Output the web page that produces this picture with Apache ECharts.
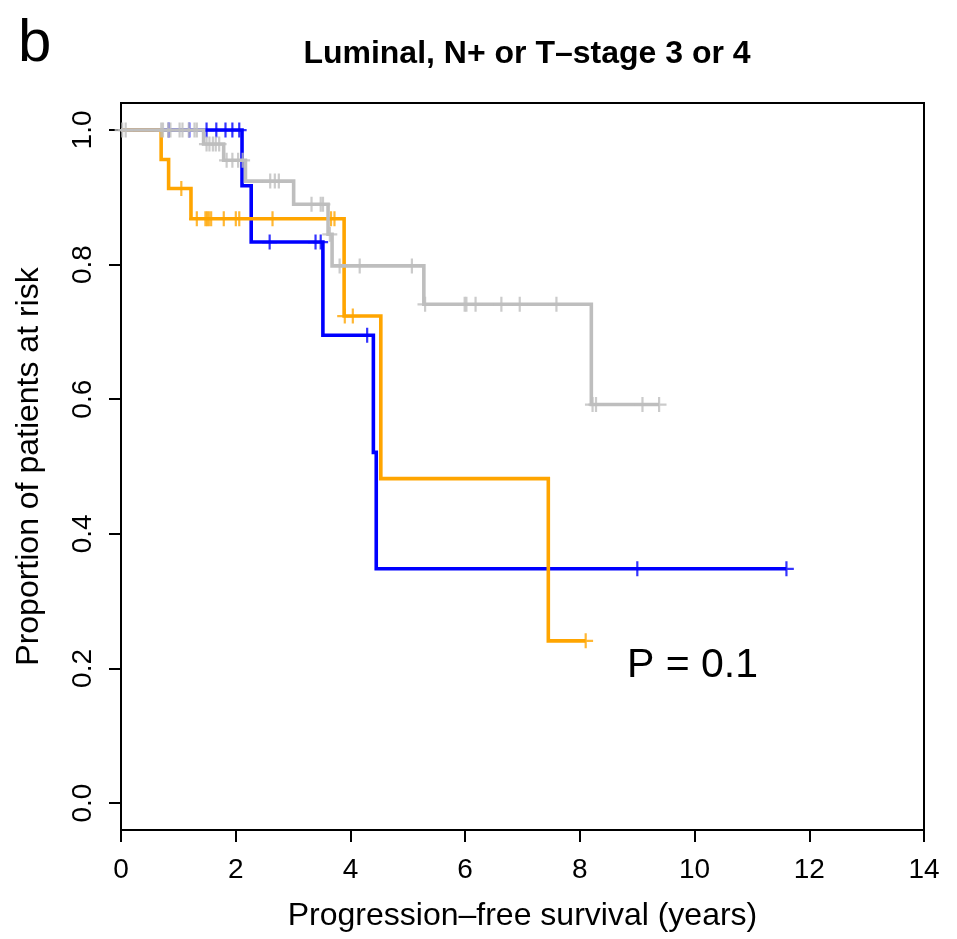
<!DOCTYPE html>
<html>
<head>
<meta charset="utf-8">
<script src="https://cdn.jsdelivr.net/npm/echarts@6/dist/echarts.min.js"></script>
<style>
html,body{margin:0;padding:0;background:#fff;}
#chart{width:957px;height:939px;}
</style>
</head>
<body>
<div id="chart"></div>
<script>
// ---- data ----
const xTicks = [0, 2, 4, 6, 8, 10, 12, 14];
const yTicks = [0, 0.2, 0.4, 0.6, 0.8, 1.0];

// orange group
const orangeTimes = [0.70, 0.83, 1.22, 3.89, 4.53, 7.45];
const orangeSurv  = [0.956, 0.913, 0.868, 0.7235, 0.482, 0.241];
const orangeCensor = [1.05, 1.32, 1.47, 1.50, 1.53, 1.57, 1.79, 2.00, 2.06, 2.64, 3.66, 3.72, 3.90, 4.04, 8.10];

// blue group
const blueTimes = [2.11, 2.27, 3.52, 4.40, 4.45];
const blueSurv  = [0.917, 0.8335, 0.695, 0.521, 0.348];
const blueCensor = [0.83, 1.19, 1.49, 1.66, 1.82, 1.94, 2.06, 2.59, 3.39, 3.48, 4.29, 9.00, 11.60];

// gray group
const grayTimes = [1.44, 1.79, 2.17, 3.01, 3.61, 3.68, 5.28, 8.20];
const graySurv  = [0.979, 0.955, 0.924, 0.8895, 0.845, 0.798, 0.741, 0.592];
const grayCensor = [0.02, 0.08, 0.70, 0.73, 0.82, 0.86, 1.02, 1.07, 1.18, 1.28, 1.32,
  1.49, 1.54, 1.60, 1.65, 1.71, 1.84, 1.94, 2.04, 2.12, 2.60, 2.68, 2.75,
  3.32, 3.48, 3.52, 3.64, 3.81, 4.16, 5.07, 5.30, 5.99, 6.02, 6.18, 6.63, 6.95, 7.59,
  8.22, 8.28, 9.09, 9.38];

const titleText = 'Luminal, N+ or T\u2013stage 3 or 4';
const xName = 'Progression\u2013free survival (years)';
const yName = 'Proportion of patients at risk';
const pText = 'P = 0.1';
const panelLetter = 'b';

// ---- helpers ----
function stepLine(times, surv, censor) {
  const pts = [[0, 1]];
  let prev = 1;
  for (let i = 0; i < times.length; i++) {
    pts.push([times[i], prev]);
    pts.push([times[i], surv[i]]);
    prev = surv[i];
  }
  const end = Math.max(times[times.length - 1], ...censor);
  pts.push([end, prev]);
  return pts;
}
function survAt(times, surv, t) {
  let s = 1;
  for (let i = 0; i < times.length; i++) if (times[i] <= t) s = surv[i];
  return s;
}
function censorPts(times, surv, censor) {
  return censor.map(t => [t, survAt(times, surv, t)]);
}

const PLUS = 'path://M6.5,0 h2.2 v15 h-2.2 z M0,6.5 h15 v2.2 h-15 z';
const FONT = 'Liberation Sans';
const groups = [
  {c: '#0000FF', t: blueTimes, s: blueSurv, k: blueCensor},
  {c: '#FFA500', t: orangeTimes, s: orangeSurv, k: orangeCensor},
  {c: '#BEBEBE', t: grayTimes, s: graySurv, k: grayCensor}
];
const series = [];
groups.forEach((g, i) => {
  series.push({
    type: 'line', data: stepLine(g.t, g.s, g.k), symbol: 'none',
    lineStyle: {color: g.c, width: 3.6, join: 'miter', cap: 'butt'}, z: 2 + i * 2, silent: true
  });
  series.push({
    type: 'scatter', data: censorPts(g.t, g.s, g.k), symbol: PLUS, symbolSize: 15,
    itemStyle: {color: g.c}, z: 3 + i * 2, silent: true
  });
});

const chart = echarts.init(document.getElementById('chart'), null, {renderer: 'canvas'});
chart.setOption({
  animation: false,
  backgroundColor: '#fff',
  title: {
    text: titleText, left: 522, top: 33, textAlign: 'center',
    textStyle: {fontFamily: FONT, fontWeight: 'bold', fontSize: 32, color: '#000'}
  },
  grid: {left: 121, right: 33, top: 103, bottom: 109, show: true, borderColor: '#000', borderWidth: 2, backgroundColor: 'transparent'},
  xAxis: {
    type: 'value', min: xTicks[0], max: xTicks[xTicks.length - 1], interval: 2,
    axisLine: {show: true, onZero: false, lineStyle: {color: '#000', width: 2}},
    axisTick: {show: true, length: 12, lineStyle: {color: '#000', width: 2}},
    axisLabel: {fontFamily: FONT, fontSize: 28, color: '#000', margin: 26},
    splitLine: {show: false},
    name: xName, nameLocation: 'middle', nameGap: 70,
    nameTextStyle: {fontFamily: FONT, fontSize: 32, color: '#000'}
  },
  yAxis: {
    type: 'value', min: -0.04, max: 1.04,
    axisLine: {show: true, onZero: false, lineStyle: {color: '#000', width: 2}},
    axisTick: {show: true, length: 12, customValues: yTicks, lineStyle: {color: '#000', width: 2}},
    axisLabel: {fontFamily: FONT, fontSize: 28, color: '#000', margin: 24, rotate: 90,
      customValues: yTicks, formatter: v => Number(v).toFixed(1)},
    splitLine: {show: false},
    name: yName, nameLocation: 'middle', nameGap: 76, nameRotate: 90,
    nameTextStyle: {fontFamily: FONT, fontSize: 32, color: '#000'}
  },
  graphic: [
    {type: 'text', left: 18, top: 14, style: {text: panelLetter, font: '60px "Liberation Sans"', fill: '#000'}},
    {type: 'text', left: 627, top: 645, style: {text: pText, font: '41px "Liberation Sans"', fill: '#000'}}
  ],
  series: series
});
</script>
</body>
</html>
